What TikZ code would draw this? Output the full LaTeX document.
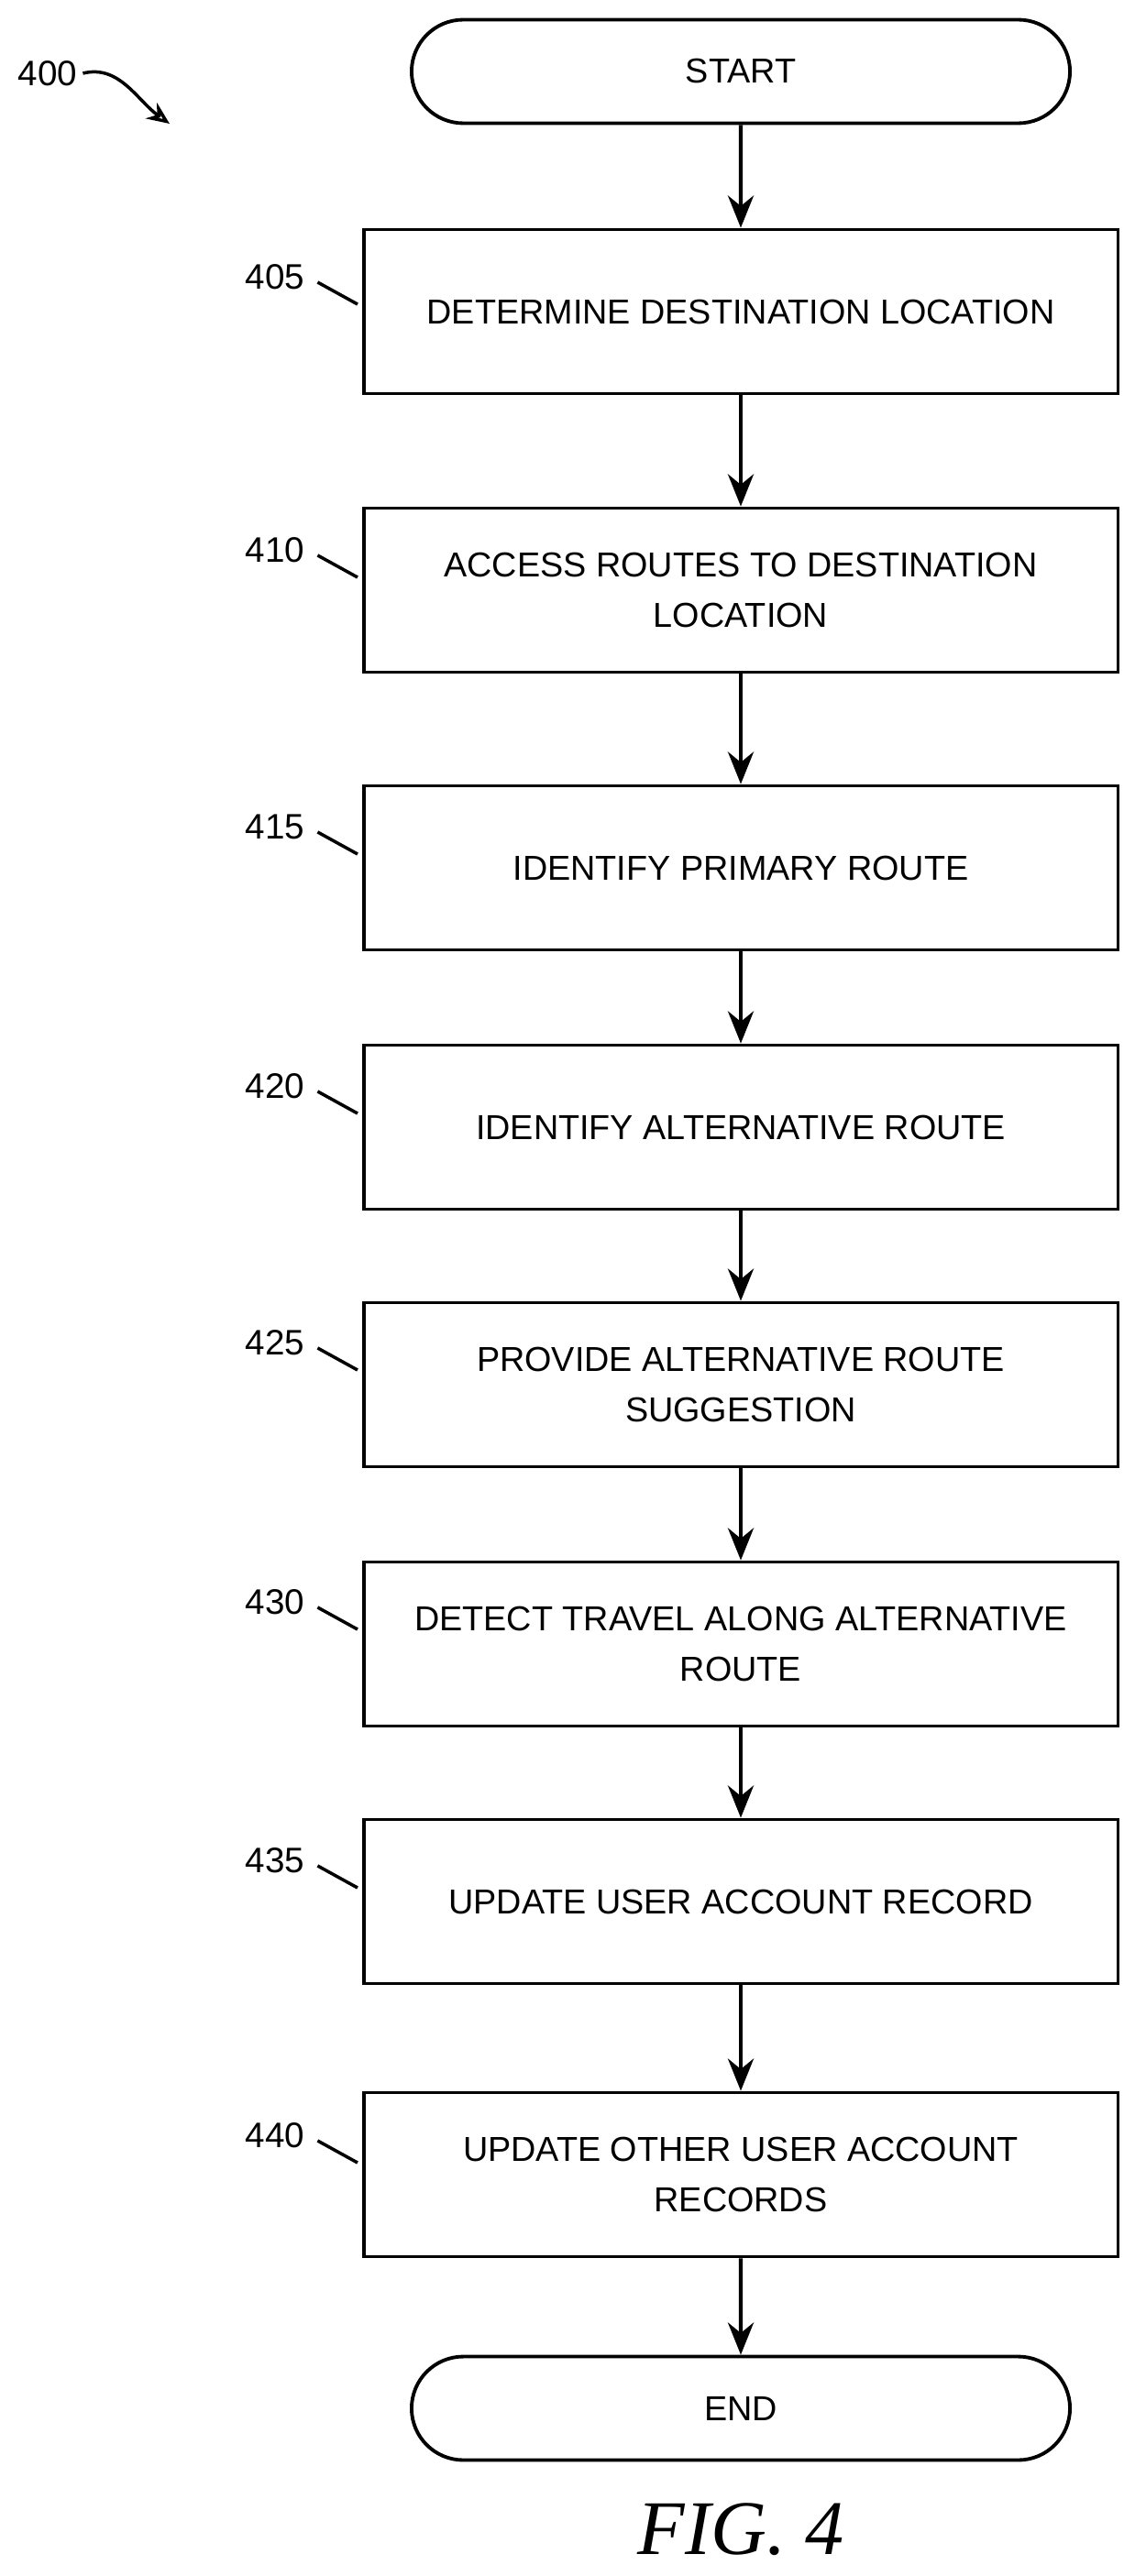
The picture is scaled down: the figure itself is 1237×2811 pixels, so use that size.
\documentclass[tikz,border=0pt]{standalone}
\usepackage{fontspec}
\setmainfont{Liberation Sans}
\newfontfamily\figfont{Liberation Serif}
\usetikzlibrary{arrows.meta,shapes.misc}
\begin{document}
\begin{tikzpicture}[x=0.02cm,y=-0.02cm,
  box/.style={draw,line width=2.2pt,minimum width=16.46cm,minimum height=3.58cm,align=center,font=\fontsize{21.5}{31}\selectfont},
  term/.style={draw,line width=2.2pt,rounded rectangle,minimum width=14.6cm,minimum height=2.26cm,font=\fontsize{21.5}{30}\selectfont},
  arr/.style={-{Stealth[length=20pt,width=16pt]},line width=2.4pt},
  lab/.style={font=\fontsize{22}{26}\selectfont},
  tick/.style={line width=2pt}]
\useasboundingbox (0,0) rectangle (1237,2811);
\node[term] (s) at (808,78) {START};
\node[box] (b405) at (808,340) {DETERMINE DESTINATION LOCATION};
\node[box] (b410) at (808,644) {ACCESS ROUTES TO DESTINATION\\LOCATION};
\node[box] (b415) at (808,947) {IDENTIFY PRIMARY ROUTE};
\node[box] (b420) at (808,1230) {IDENTIFY ALTERNATIVE ROUTE};
\node[box] (b425) at (808,1511) {PROVIDE ALTERNATIVE ROUTE\\SUGGESTION};
\node[box] (b430) at (808,1794) {DETECT TRAVEL ALONG ALTERNATIVE\\ROUTE};
\node[box] (b435) at (808,2075) {UPDATE USER ACCOUNT RECORD};
\node[box] (b440) at (808,2373) {UPDATE OTHER USER ACCOUNT\\RECORDS};
\node[term] (e) at (808,2628) {END};
\draw[arr] (s) -- (b405);
\draw[arr] (b405) -- (b410);
\draw[arr] (b410) -- (b415);
\draw[arr] (b415) -- (b420);
\draw[arr] (b420) -- (b425);
\draw[arr] (b425) -- (b430);
\draw[arr] (b430) -- (b435);
\draw[arr] (b435) -- (b440);
\draw[arr] (b440) -- (e);
\foreach \n/\y in {405/302,410/600,415/902,420/1185,425/1465,430/1748,435/2030,440/2330}{
  \node[lab] (l\n) at (300,\y) {\n};
  \coordinate (t\n) at (390,\y+30);
  \draw[tick] (l\n.east) ++(8,6) -- (t\n);
}
\node[lab] (l400) at (52,80) {400};
\coordinate (a400) at (185,135);
\draw[tick,-{Stealth[length=14pt,width=12pt,open]}] (l400.east) .. controls (130,70) and (150,110) .. (a400);
\node[font=\figfont\itshape\fontsize{48}{52}\selectfont] (fig) at (808,2760) {FIG. 4};
\end{tikzpicture}
\end{document}
